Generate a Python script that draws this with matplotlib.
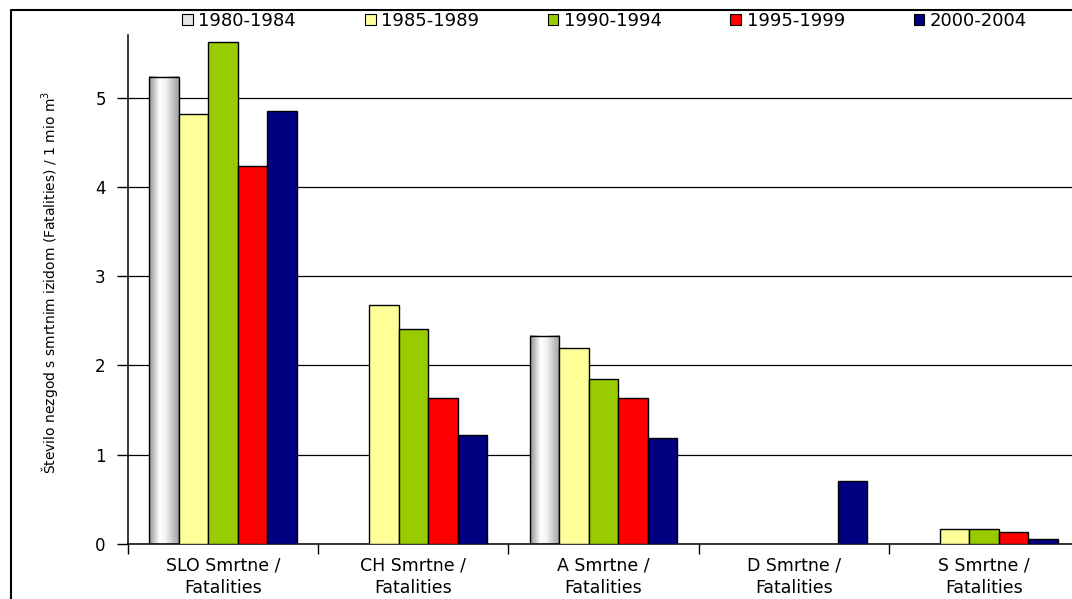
import numpy as np
import matplotlib
matplotlib.use('Agg')
import matplotlib.pyplot as plt
from matplotlib.patches import Patch
from matplotlib.lines import Line2D
from matplotlib.colors import LinearSegmentedColormap

categories = ['SLO Smrtne /\nFatalities', 'CH Smrtne /\nFatalities', 'A Smrtne /\nFatalities',
              'D Smrtne /\nFatalities', 'S Smrtne /\nFatalities']
periods = ['1980-1984', '1985-1989', '1990-1994', '1995-1999', '2000-2004']
# NaN = no bar drawn
v1980 = [5.23, np.nan, 2.33, np.nan, np.nan]
v1985 = [4.81, 2.68, 2.20, np.nan, 0.17]
v1990 = [5.62, 2.41, 1.85, np.nan, 0.17]
v1995 = [4.23, 1.63, 1.63, np.nan, 0.13]
v2000 = [4.85, 1.22, 1.19, 0.71, 0.06]
series = [v1980, v1985, v1990, v1995, v2000]
colors = ['#E6E6E6', '#FFFF99', '#99CC00', '#FF0000', '#000080']
yticks = [0, 1, 2, 3, 4, 5]

fig = plt.figure(figsize=(10.72, 5.99), dpi=100)
ax = fig.add_axes([128/1072, 55/599, 951/1072, 509/599])

x = np.arange(len(categories))
w = 0.155
gray_cmap = LinearSegmentedColormap.from_list(
    'cyl', [(0, '#909090'), (0.35, '#ffffff'), (0.55, '#f4f4f4'), (1, '#a0a0a0')])
grad = np.linspace(0, 1, 64).reshape(1, -1)

for i, vals in enumerate(series):
    pos = x + (i - 2) * w
    for p, v in zip(pos, vals):
        if np.isnan(v):
            continue
        if i == 0:
            # cylinder-like shading of the first period
            ax.imshow(grad, cmap=gray_cmap, extent=[p - w/2, p + w/2, 0, v],
                      aspect='auto', zorder=2, interpolation='bicubic')
            ax.bar(p, v, w, facecolor='none', edgecolor='black', linewidth=1.0, zorder=3)
        else:
            ax.bar(p, v, w, color=colors[i], edgecolor='black', linewidth=1.0, zorder=3)

ax.set_xlim(-0.5, 4.5)
ax.set_ylim(0, 5.7)
ax.set_yticks(yticks)
ax.yaxis.grid(True, color='black', linewidth=0.9)
ax.set_axisbelow(True)
ax.tick_params(axis='y', direction='out', length=8, width=1, labelsize=12, pad=8)

ax.set_xticks(x)
ax.set_xticklabels(categories, fontsize=12.5, linespacing=1.3)
ax.set_xticks(np.arange(-0.5, 5, 1), minor=True)
ax.tick_params(axis='x', which='major', length=0, pad=9)
ax.tick_params(axis='x', which='minor', length=7, width=1, direction='out')

for s in ['top', 'right']:
    ax.spines[s].set_visible(False)
ax.spines['left'].set_linewidth(1.1)
ax.spines['bottom'].set_linewidth(1.1)

fig.text(50/1072, 1 - 282/599, 'Število nezgod s smrtnim izidom (Fatalities) / 1 mio m$^3$',
         rotation=90, fontsize=10, ha='center', va='center')

handles = [Patch(facecolor=c, edgecolor='black', linewidth=0.8) for c in colors]
fig.legend(handles, periods, loc='center', bbox_to_anchor=(0.564, 1 - 21/599), ncol=5,
           frameon=False, fontsize=13, handlelength=0.6, handleheight=0.6,
           handletextpad=0.3, columnspacing=3.8)

# outer border (top and left)
fig.add_artist(Line2D([11/1072, 11/1072, 1], [0, 1 - 10/599, 1 - 10/599],
                      transform=fig.transFigure, color='black', linewidth=1.5))

fig.savefig('out.png', dpi=100)
